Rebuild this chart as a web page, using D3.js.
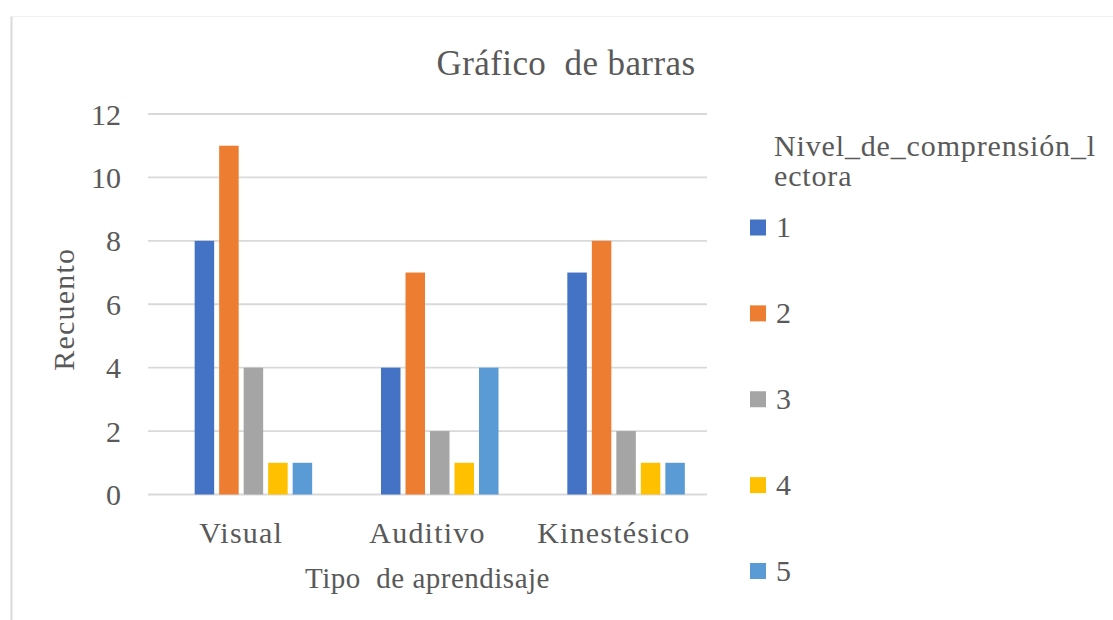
<!DOCTYPE html>
<html>
<head>
<meta charset="utf-8">
<script src="https://cdn.jsdelivr.net/npm/d3@7"></script>
<style>
  body { margin: 0; background: #fff; }
  svg { display: block; }
</style>
</head>
<body>
<svg id="chart" width="1113" height="620" font-family="'Liberation Serif', 'Times New Roman', serif"></svg>
<script>
const categories = ["Visual", "Auditivo", "Kinestésico"];
// first slot is an empty (missing) series in the original export
const seriesKeys = ["", "1", "2", "3", "4", "5"];
const seriesColors = { "1": "#4472C4", "2": "#ED7D31", "3": "#A5A5A5", "4": "#FFC000", "5": "#5B9BD5" };
const values = {
  "1": [8, 4, 7],
  "2": [11, 7, 8],
  "3": [4, 2, 2],
  "4": [1, 1, 1],
  "5": [1, 4, 1]
};
const yTicks = [0, 2, 4, 6, 8, 10, 12];
const title = "Gráfico  de barras";
const xTitle = "Tipo  de aprendisaje";
const yTitle = "Recuento";
const legendTitle = ["Nivel_de_comprensión_l", "ectora"];
const legendKeys = ["1", "2", "3", "4", "5"];

const svg = d3.select("#chart");
const TXT = "#595959";

// frame
svg.append("line").attr("x1", 11.5).attr("x2", 11.5).attr("y1", 16).attr("y2", 620)
  .attr("stroke", "#d9d9d9").attr("stroke-width", 2);
svg.append("line").attr("x1", 11).attr("x2", 1113).attr("y1", 16.5).attr("y2", 16.5)
  .attr("stroke", "#efefef").attr("stroke-width", 1);

const plot = { left: 148, right: 707, top: 114, bottom: 494.5 };

const x0 = d3.scaleBand().domain(categories).range([plot.left, plot.right]);
const groupW = 147;
const x1 = d3.scaleBand().domain(seriesKeys).range([0, groupW]).paddingInner(0.204).paddingOuter(0.102);
const y = d3.scaleLinear().domain([0, 12]).range([plot.bottom, plot.top]);

// gridlines
svg.append("g").selectAll("line").data(yTicks).join("line")
  .attr("x1", plot.left).attr("x2", plot.right)
  .attr("y1", d => y(d)).attr("y2", d => y(d))
  .attr("stroke", "#d9d9d9").attr("stroke-width", 1.8);

// y tick labels
svg.append("g").selectAll("text").data(yTicks).join("text")
  .attr("x", 121).attr("y", d => y(d)).attr("dy", "0.35em").attr("fill", TXT)
  .attr("text-anchor", "end").attr("font-size", 30).text(d => d);

// bars
const groups = svg.append("g").selectAll("g").data(categories).join("g")
  .attr("transform", c => `translate(${x0(c) + (x0.bandwidth() - groupW) / 2},0)`);
groups.selectAll("rect")
  .data((c, i) => legendKeys.map(k => ({ key: k, value: values[k][i] })))
  .join("rect")
  .attr("x", d => x1(d.key)).attr("width", x1.bandwidth())
  .attr("y", d => y(d.value)).attr("height", d => y(0) - y(d.value))
  .attr("fill", d => seriesColors[d.key]);

// x category labels
svg.append("g").selectAll("text").data(categories).join("text")
  .attr("x", c => x0(c) + x0.bandwidth() / 2).attr("y", 543).attr("fill", TXT)
  .attr("text-anchor", "middle").attr("font-size", 30).attr("letter-spacing", 1.2).text(c => c);

// title
svg.append("text").attr("x", 566).attr("y", 75).attr("text-anchor", "middle").attr("fill", TXT)
  .attr("font-size", 35).attr("letter-spacing", 0.4).style("white-space", "pre").text(title);

// axis titles
svg.append("text").attr("x", (plot.left + plot.right) / 2).attr("y", 588).attr("fill", TXT)
  .attr("text-anchor", "middle").attr("font-size", 29).attr("letter-spacing", 0.5)
  .style("white-space", "pre").text(xTitle);
svg.append("text").attr("transform", `translate(74,${(plot.top + plot.bottom) / 2 + 5}) rotate(-90)`)
  .attr("text-anchor", "middle").attr("font-size", 30).attr("letter-spacing", 1.2)
  .attr("fill", TXT).text(yTitle);

// legend
const lg = svg.append("g");
lg.selectAll("text.lt").data(legendTitle).join("text").attr("class", "lt").attr("fill", TXT)
  .attr("x", 774).attr("y", (d, i) => 156 + i * 30).attr("font-size", 30)
  .attr("letter-spacing", 0.85).text(d => d);
const ly = d3.scalePoint().domain(legendKeys).range([227.5, 571]);
const items = lg.selectAll("g.item").data(legendKeys).join("g").attr("class", "item")
  .attr("transform", k => `translate(0,${ly(k)})`);
items.append("rect").attr("x", 750).attr("y", -8).attr("width", 16).attr("height", 16)
  .attr("fill", k => seriesColors[k]);
items.append("text").attr("x", 776).attr("y", 0).attr("dy", "0.33em").attr("font-size", 30)
  .attr("fill", TXT).text(k => k);
</script>
</body>
</html>
